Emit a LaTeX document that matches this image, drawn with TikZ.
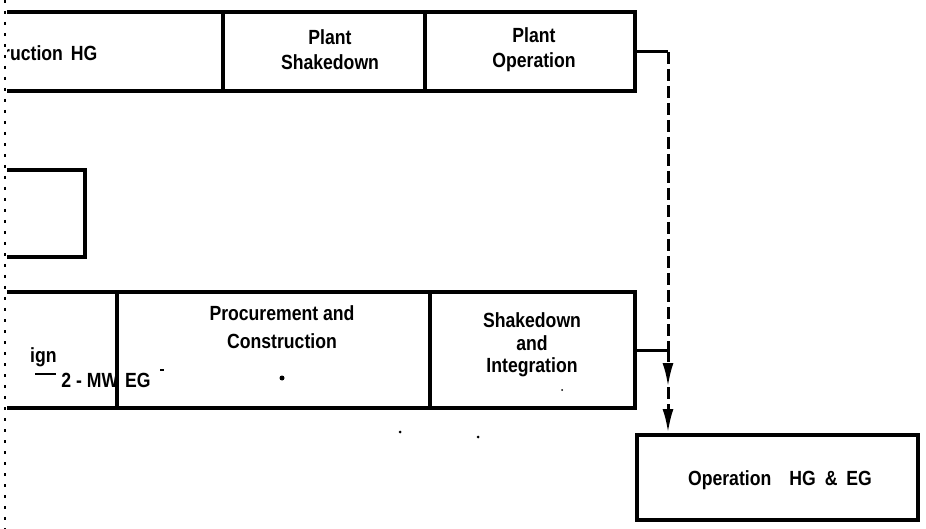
\documentclass[tikz,border=0pt]{standalone}
\usepackage{fontspec}
\setmainfont{Liberation Sans}[FakeStretch=0.86]
\usetikzlibrary{arrows.meta}

\begin{document}
\begin{tikzpicture}[x=1pt,y=-1pt,
    every node/.style={font=\bfseries\fontsize{20.5}{25}\selectfont},
    box/.style={draw, line width=4pt, inner sep=0pt},
    lbl/.style={align=center, inner sep=0pt},
    link/.style={line width=3pt},
    dashlink/.style={line width=3pt, dash pattern=on 12pt off 5pt},
    tip/.style={-{Latex[length=24pt,width=11pt]}}]
  \useasboundingbox (0,0) rectangle (926,529);
  \begin{scope}
    \clip (7,-10) rectangle (936,539);
    \node [box, minimum width=243, minimum height=79] (CHG) at (101.5,52) {};
    \node [box, minimum width=202, minimum height=79] (PS) at (324,52) {};
    \node [box, minimum width=210, minimum height=79] (PO) at (530,52) {};
    \node [box, minimum width=105, minimum height=87] (MID) at (32.5,213.5) {};
    \node [box, minimum width=137, minimum height=116] (DES) at (48.5,350) {};
    \node [box, minimum width=313, minimum height=116] (PC) at (273.5,350) {};
    \node [box, minimum width=205, minimum height=116] (SI) at (532.5,350) {};
    \node [lbl, anchor=west] (tCHG) at (3,53) {ruction\hspace{8pt}HG};
  \end{scope}
  \node [box, minimum width=281, minimum height=85] (OP) at (777.5,477.5) {};
  \node [lbl] (tPS) at (330,50) {Plant\\Shakedown};
  \node [lbl] (tPO) at (534,50) {Plant\\Operation};
  \node [lbl] (tPC) at (282,327) {Procurement and\\[3pt]Construction};
  \node [lbl, font=\bfseries\fontsize{20.5}{22.5}\selectfont] (tSI) at (532,345) {Shakedown\\and\\Integration};
  \node [lbl, anchor=west] (tDES) at (30,357) {ign};
  \node [lbl] (tMW) at (106,380) {2 - MW\hspace{7pt}EG};
  \node [lbl] (tOP) at (780,480) {Operation\hspace{18pt}HG\hspace{9pt}\&\hspace{9pt}EG};
  \coordinate (J1) at (668,52);
  \coordinate (J2) at (668,350);
  \coordinate (J3) at (668,387);
  \draw [link] (PO.east) -- (J1);
  \draw [link] (SI.east) -- (J2);
  \draw [dashlink] (J1) -- (J2);
  \draw [dashlink, tip] (J2) -- (J3);
  \draw [dashlink, tip] (J3) -- (J2 |- OP.north);
  \draw [line width=2pt] (35,374) -- (56,374);
  \draw [line width=1.5pt] (160,370) -- (164,370);
  \draw [line width=1.5pt, dash pattern=on 3pt off 8pt] (5,0) -- (5,529);
  \fill (282,378) circle (2.5);
  \fill (400,432) circle (1.5);
  \fill (478,437) circle (1.5);
  \fill (562,390) circle (1);
\end{tikzpicture}
\end{document}
